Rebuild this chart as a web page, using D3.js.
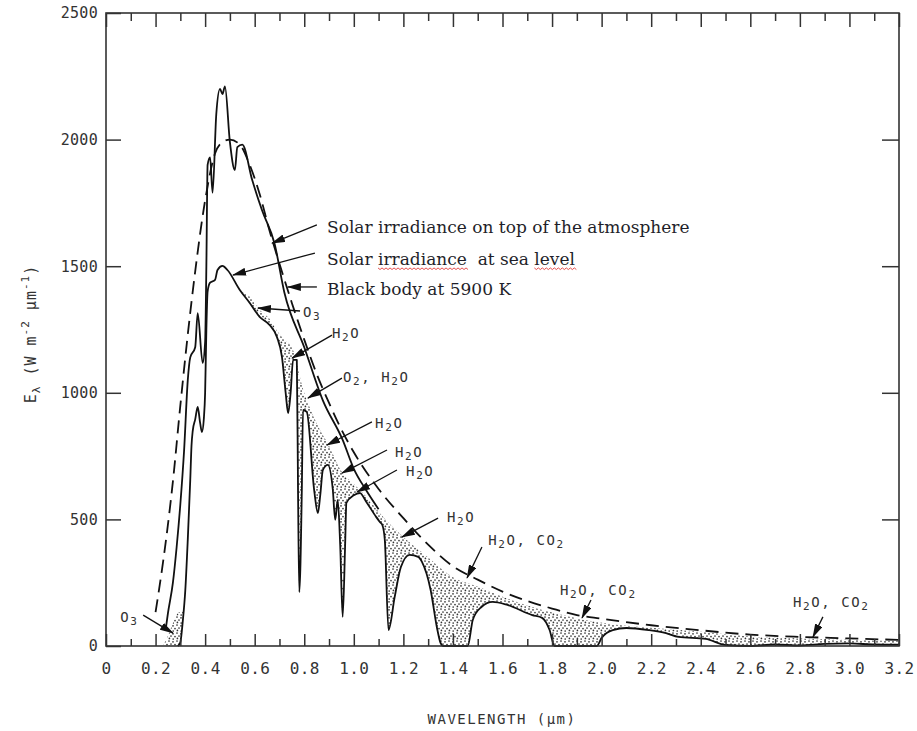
<!DOCTYPE html>
<html>
<head>
<meta charset="utf-8">
<title>Solar irradiance spectrum</title>
<script src="https://d3js.org/d3.v7.min.js"></script>
<style>
	body { margin: 0; background: #fff; }
	.axis text { font-family: "DejaVu Sans Mono", monospace; fill: #333; }
	.axis line { stroke: #333; stroke-width: 1.5px; }
	.note { font-family: "DejaVu Sans Mono", monospace; fill: #333; letter-spacing: 1.6px; }
	.legend { font-family: "DejaVu Serif", serif; font-size: 17px; fill: #1f1f2a; white-space: pre; }
</style>
</head>
<body>
<svg width="917" height="731"></svg>
<script>

// tick values
var xMajorTicks = [0, 0.2, 0.4, 0.6, 0.8, 1.0, 1.2, 1.4, 1.6, 1.8, 2.0, 2.2, 2.4, 2.6, 2.8, 3.0, 3.2];
var xMinorTicks = [0.1, 0.3, 0.5, 0.7, 0.9, 1.1, 1.3, 1.5, 1.7, 1.9, 2.1, 2.3, 2.5, 2.7, 2.9, 3.1];
var yTicks = [0, 500, 1000, 1500, 2000, 2500];

// [wavelength um, W m-2 um-1]
var blackbody = [[0.2,134],[0.23,330],[0.25,480],[0.27,650],[0.3,950],[0.33,1230],[0.36,1480],[0.4,1760],
	[0.44,1945],[0.47,1990],[0.5,2000],[0.54,1980],[0.58,1900],[0.62,1785],[0.66,1640],[0.7,1510],[0.75,1355],
	[0.8,1210],[0.85,1075],[0.9,960],[0.95,855],[1.0,765],[1.1,620],[1.2,505],[1.3,400],[1.4,315],[1.5,262],
	[1.6,215],[1.7,178],[1.8,148],[1.9,122],[2.0,108],[2.2,82],[2.4,62],[2.6,45],[2.8,36],[3.0,30],[3.2,24]];

var topOfAtmosphere = [[0.24,60],[0.25,130],[0.27,250],[0.285,390],[0.3,560],[0.315,770],[0.33,1050],[0.34,1140],
	[0.36,1180],[0.37,1315],[0.39,1118],[0.4,1200],[0.405,1500],[0.41,1900],[0.42,1930],[0.43,1790],[0.445,2100],
	[0.46,2200],[0.47,2180],[0.48,2210],[0.5,1990],[0.52,1880],[0.53,1970],[0.55,1980],[0.59,1840],[0.63,1720],
	[0.68,1590],[0.72,1395],[0.8,1180],[0.875,970],[0.955,814],[1.0,700],[1.05,615],[1.1,540]];

var seaLevel = [[0.29,0],[0.3,15],[0.31,100],[0.32,220],[0.33,420],[0.34,656],[0.345,790],[0.35,850],[0.36,895],
	[0.37,944],[0.38,880],[0.387,845],[0.395,900],[0.4,1000],[0.405,1250],[0.41,1400],[0.42,1435],[0.44,1446],
	[0.45,1485],[0.47,1501],[0.49,1485],[0.54,1406],[0.58,1355],[0.62,1300],[0.66,1268],[0.69,1220],[0.71,1142],
	[0.725,1000],[0.735,920],[0.745,1000],[0.755,1130],[0.77,1130],[0.775,600],[0.78,213],[0.79,600],[0.795,932],
	[0.81,925],[0.84,616],[0.855,525],[0.865,600],[0.875,695],[0.895,715],[0.915,620],[0.925,498],[0.935,577],
	[0.945,400],[0.955,115],[0.965,400],[0.97,565],[1.0,595],[1.025,604],[1.05,570],[1.09,510],[1.105,490],
	[1.115,478],[1.125,420],[1.14,63],[1.165,194],[1.19,312],[1.225,360],[1.26,352],[1.275,332],[1.31,221],
	[1.335,75],[1.35,12],[1.36,0],[1.46,0],[1.48,103],[1.515,154],[1.56,174],[1.62,162],[1.72,122],[1.76,111],
	[1.79,63],[1.81,0],[1.98,0],[2.0,32],[2.045,63],[2.1,71],[2.19,63],[2.26,51],[2.31,36],[2.42,28],[2.5,4],
	[2.6,0],[2.7,6],[2.8,2],[2.9,8],[3.0,10],[3.1,6],[3.2,5]];

// upper edge of the dotted absorption bands
var uvBand = [[0.23,0],[0.25,40],[0.27,90],[0.29,130],[0.31,140],[0.32,200]];
var irBand = [[0.54,1400],[0.58,1380],[0.62,1328],[0.66,1292],[0.69,1245],[0.72,1210],[0.75,1180],[0.8,1000],
	[0.85,880],[0.9,790],[0.95,690],[1.0,640],[1.05,590],[1.1,530],[1.2,430],[1.3,350],[1.4,272],[1.5,235],
	[1.6,195],[1.7,160],[1.8,132],[1.9,110],[2.0,92],[2.2,72],[2.4,56],[2.6,38],[2.8,30],[3.0,25],[3.2,20]];

// absorber labels: text position, leader start, arrow tip (data units)
var absorbers = [
	{label: "O3", tx: 0.057, ty: 95, x1: 0.15, y1: 122, x2: 0.27, y2: 51},
	{label: "O3", tx: 0.795, ty: 1299, x1: 0.783, y1: 1323, x2: 0.613, y2: 1335},
	{label: "H2O", tx: 0.912, ty: 1216, x1: 0.912, y1: 1228, x2: 0.751, y2: 1137},
	{label: "O2, H2O", tx: 0.956, ty: 1043, x1: 0.952, y1: 1058, x2: 0.815, y2: 979},
	{label: "H2O", tx: 1.086, ty: 861, x1: 1.073, y1: 885, x2: 0.892, y2: 794},
	{label: "H2O", tx: 1.166, ty: 746, x1: 1.134, y1: 774, x2: 0.952, y2: 683},
	{label: "H2O", tx: 1.211, ty: 671, x1: 1.174, y1: 695, x2: 1.013, y2: 608},
	{label: "H2O", tx: 1.376, ty: 490, x1: 1.34, y1: 505, x2: 1.194, y2: 430},
	{label: "H2O, CO2", tx: 1.542, ty: 399, x1: 1.517, y1: 391, x2: 1.457, y2: 269},
	{label: "H2O, CO2", tx: 1.832, ty: 201, x1: 1.957, y1: 182, x2: 1.921, y2: 111},
	{label: "H2O, CO2", tx: 2.772, ty: 154, x1: 2.893, y1: 115, x2: 2.853, y2: 36}
];

var legendItems = [
	{text: "Solar irradiance on top of the atmosphere", tx: 0.892, ty: 1631, x1: 0.851, y1: 1663, x2: 0.670, y2: 1591},
	{text: "Solar irradiance  at sea level", tx: 0.892, ty: 1505, x1: 0.843, y1: 1552, x2: 0.5125, y2: 1465},
	{text: "Black body at 5900 K", tx: 0.892, ty: 1386, x1: 0.851, y1: 1418, x2: 0.734, y2: 1418}
];

var svg = d3.select("svg");

var x = d3.scaleLinear().domain([0, 3.2]).range([106, 899]);
var y = d3.scaleLinear().domain([0, 2500]).range([646, 13]);

var defs = svg.append("defs");

var dots = defs.append("pattern")
	.attr("id", "dots")
	.attr("width", 8).attr("height", 8)
	.attr("patternUnits", "userSpaceOnUse");
[[1,1],[5,1.8],[3,4],[7,4.6],[1.4,6.4],[5.2,7]].forEach(function(p) {
	dots.append("circle").attr("cx", p[0]).attr("cy", p[1]).attr("r", 0.85).attr("fill", "#333");
});

defs.append("marker")
	.attr("id", "arrow")
	.attr("viewBox", "0 0 14 8")
	.attr("refX", 13).attr("refY", 4)
	.attr("markerWidth", 14).attr("markerHeight", 8)
	.attr("markerUnits", "userSpaceOnUse")
	.attr("orient", "auto")
	.append("path")
	.attr("d", "M0,0 L14,4 L0,8 Z")
	.attr("fill", "#111");

var line = d3.line()
	.x(function(d) { return x(d[0]); })
	.y(function(d) { return y(d[1]); })
	.curve(d3.curveMonotoneX);

var area = d3.area()
	.x(function(d) { return x(d[0]); })
	.y0(y(0))
	.y1(function(d) { return y(d[1]); })
	.curve(d3.curveMonotoneX);

// dotted bands, then blank out what lies under the sea-level curve
[uvBand, irBand].forEach(function(band) {
	svg.append("path").attr("d", area(band)).attr("fill", "url(#dots)");
});
svg.append("path").attr("d", area(seaLevel)).attr("fill", "#fff");

svg.append("path").attr("d", line(seaLevel))
	.attr("fill", "none").attr("stroke", "#111").attr("stroke-width", 1.8).attr("stroke-linejoin", "round");
svg.append("path").attr("d", line(topOfAtmosphere))
	.attr("fill", "none").attr("stroke", "#111").attr("stroke-width", 1.8).attr("stroke-linejoin", "round");
svg.append("path").attr("d", line(blackbody))
	.attr("fill", "none").attr("stroke", "#111").attr("stroke-width", 1.8).attr("stroke-dasharray", "13,7");

// axes, ticks point inward
function fmtX(d) { return d === 0 ? "0" : d.toFixed(1); }

svg.append("g").attr("class", "axis").attr("transform", "translate(0," + y(0) + ")")
	.call(d3.axisBottom(x).tickValues(xMinorTicks).tickSize(-7).tickFormat(""));
svg.append("g").attr("class", "axis").attr("transform", "translate(0," + y(0) + ")")
	.call(d3.axisBottom(x).tickValues(xMajorTicks).tickSize(-12).tickPadding(17).tickFormat(fmtX))
	.selectAll("text").style("font-size", "16px").style("letter-spacing", "0.4px");
svg.append("g").attr("class", "axis").attr("transform", "translate(0," + y(2500) + ")")
	.call(d3.axisTop(x).tickValues(xMinorTicks).tickSize(-8).tickFormat(""));
svg.append("g").attr("class", "axis").attr("transform", "translate(0," + y(2500) + ")")
	.call(d3.axisTop(x).tickValues(xMajorTicks).tickSize(-14).tickFormat(""));
svg.append("g").attr("class", "axis").attr("transform", "translate(" + x(0) + ",0)")
	.call(d3.axisLeft(y).tickValues(yTicks).tickSize(-15).tickPadding(8).tickFormat(d3.format("d")))
	.selectAll("text").style("font-size", "15px").style("letter-spacing", "0.3px");
svg.append("g").attr("class", "axis").attr("transform", "translate(" + x(3.2) + ",0)")
	.call(d3.axisRight(y).tickValues(yTicks.slice(1, 5)).tickSize(-17).tickFormat(""));
svg.selectAll(".axis .domain").remove();

svg.append("rect")
	.attr("x", x(0)).attr("y", y(2500))
	.attr("width", x(3.2) - x(0)).attr("height", y(0) - y(2500))
	.attr("fill", "none").attr("stroke", "#333").attr("stroke-width", 1.6);

// axis titles
svg.append("text").attr("class", "note")
	.attr("x", 502).attr("y", 724)
	.attr("text-anchor", "middle")
	.style("font-size", "14px").style("letter-spacing", "1.5px")
	.text("WAVELENGTH (\u03bcm)");

var yt = svg.append("text").attr("class", "note")
	.attr("transform", "translate(36,334) rotate(-90)")
	.attr("text-anchor", "middle")
	.style("font-size", "15px").style("letter-spacing", "1px");
yt.append("tspan").text("E");
yt.append("tspan").attr("dy", 4).style("font-size", "11px").text("\u03bb");
yt.append("tspan").attr("dy", -4).text(" (W m");
yt.append("tspan").attr("dy", -7).style("font-size", "11px").text("-2");
yt.append("tspan").attr("dy", 7).text(" \u03bcm");
yt.append("tspan").attr("dy", -7).style("font-size", "11px").text("-1");
yt.append("tspan").attr("dy", 7).text(")");

// chemical formula with subscript digits
function chem(sel, str) {
	var sub = false;
	str.split(/(\d)/).forEach(function(part) {
		if (!part) return;
		var isSub = /\d/.test(part);
		var dy = isSub ? (sub ? 0 : 3) : (sub ? -3 : 0);
		sel.append("tspan").attr("dy", dy).style("font-size", isSub ? "11px" : "14px").text(part);
		sub = isSub;
	});
}

absorbers.forEach(function(a) {
	svg.append("line")
		.attr("x1", x(a.x1)).attr("y1", y(a.y1))
		.attr("x2", x(a.x2)).attr("y2", y(a.y2))
		.attr("stroke", "#111").attr("stroke-width", 1.3)
		.attr("marker-end", "url(#arrow)");
	var t = svg.append("text").attr("class", "note")
		.attr("x", x(a.tx)).attr("y", y(a.ty));
	chem(t, a.label);
});

legendItems.forEach(function(l) {
	svg.append("line")
		.attr("x1", x(l.x1)).attr("y1", y(l.y1))
		.attr("x2", x(l.x2)).attr("y2", y(l.y2))
		.attr("stroke", "#111").attr("stroke-width", 1.3)
		.attr("marker-end", "url(#arrow)");
	svg.append("text").attr("class", "legend")
		.attr("x", x(l.tx)).attr("y", y(l.ty))
		.text(l.text);
});

// spell-check squiggles under "irradiance" and "level"
var seaText = svg.selectAll(".legend").filter(function(d, i) { return i === 1; }).node();
[[6, 10], [25, 5]].forEach(function(r) {
	var x0 = seaText.getStartPositionOfChar(r[0]).x;
	var x1 = seaText.getEndPositionOfChar(r[0] + r[1] - 1).x;
	var yb = seaText.getStartPositionOfChar(r[0]).y + 3;
	var d = "M" + x0 + "," + yb;
	for (var xx = x0, k = 0; xx < x1; xx += 2, k++) {
		d += " L" + (xx + 2) + "," + (yb + (k % 2 ? 0 : 1.6));
	}
	svg.append("path").attr("d", d).attr("fill", "none").attr("stroke", "#e23b3b").attr("stroke-width", 0.9);
});

</script>
</body>
</html>
